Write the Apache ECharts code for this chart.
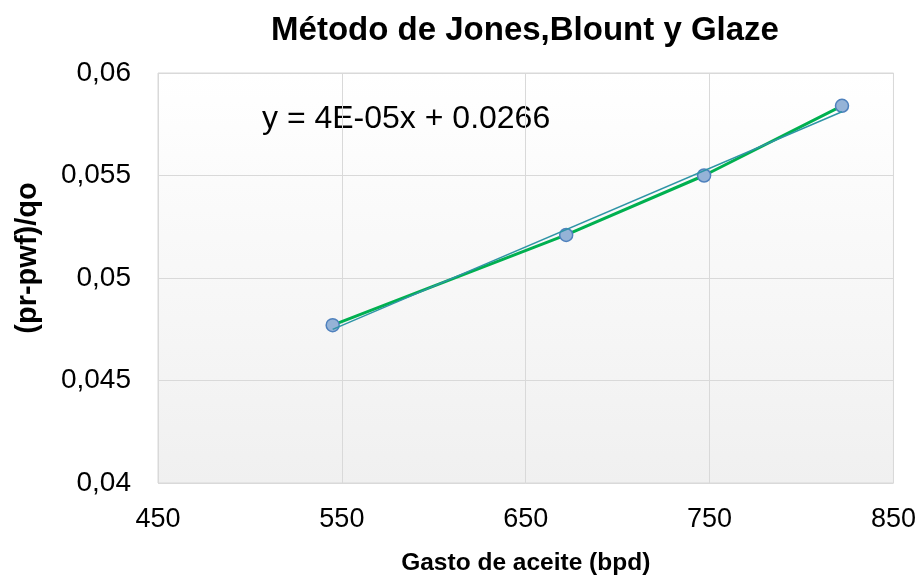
<!DOCTYPE html>
<html>
<head>
<meta charset="utf-8">
<script src="https://cdn.jsdelivr.net/npm/echarts@6/dist/echarts.min.js"></script>
<style>
  html, body { margin: 0; padding: 0; background: #ffffff; }
  #chart { width: 919px; height: 581px; }
</style>
</head>
<body>
<div id="chart"></div>
<script>
// Measured rate vs. (pr - pwf)/qo
const gastoAceite = [545, 672, 747, 822];
const presionSobreGasto = [0.0477, 0.0521, 0.0550, 0.0584];

const xTicks = [450, 550, 650, 750, 850];
const yTicks = [0.04, 0.045, 0.05, 0.055, 0.06];

// Least-squares linear trend of the measured points
function linearFit(xs, ys) {
  const n = xs.length;
  const mx = xs.reduce((a, b) => a + b, 0) / n;
  const my = ys.reduce((a, b) => a + b, 0) / n;
  let sxy = 0, sxx = 0;
  for (let i = 0; i < n; i++) {
    sxy += (xs[i] - mx) * (ys[i] - my);
    sxx += (xs[i] - mx) * (xs[i] - mx);
  }
  const m = sxy / sxx;
  return { m: m, b: my - m * mx };
}
const fit = linearFit(gastoAceite, presionSobreGasto);
const xMin = Math.min(...gastoAceite), xMax = Math.max(...gastoAceite);
const trendData = [[xMin, fit.m * xMin + fit.b], [xMax, fit.m * xMax + fit.b]];

function excelSci(v) {
  const e = Math.floor(Math.log10(Math.abs(v)));
  const mant = Math.round(v / Math.pow(10, e));
  const exp = Math.abs(e).toString().padStart(2, '0');
  return mant + 'E' + (e < 0 ? '-' : '+') + exp;
}
const equation = 'y = ' + excelSci(fit.m) + 'x + ' + fit.b.toFixed(4);

const font = '"Liberation Sans", Arial, sans-serif';
const chart = echarts.init(document.getElementById('chart'), null, { renderer: 'canvas' });

chart.setOption({
  animation: false,
  backgroundColor: '#ffffff',
  title: {
    text: 'Método de Jones,Blount y Glaze',
    left: 520, top: 9, textAlign: 'center',
    textStyle: { fontFamily: font, fontSize: 33, fontWeight: 'bold', color: '#000000' }
  },
  grid: {
    left: 158, right: 25, top: 73, bottom: 95,
    show: true,
    borderColor: '#D9D9D9', borderWidth: 1,
    backgroundColor: {
      type: 'linear', x: 0, y: 0, x2: 0, y2: 1,
      colorStops: [{ offset: 0, color: '#FFFFFF' }, { offset: 1, color: '#F0F0F0' }]
    }
  },
  xAxis: {
    type: 'value', min: xTicks[0], max: xTicks[xTicks.length - 1], interval: 100,
    name: 'Gasto de aceite (bpd)', nameLocation: 'middle', nameGap: 68,
    nameTextStyle: { fontFamily: font, fontSize: 24.5, fontWeight: 'bold', color: '#000000' },
    axisLine: { show: false }, axisTick: { show: false },
    axisLabel: { fontFamily: font, fontSize: 27, color: '#000000', margin: 23 },
    splitLine: { show: true, lineStyle: { color: '#D9D9D9', width: 1 } }
  },
  yAxis: {
    type: 'value', min: yTicks[0], max: yTicks[yTicks.length - 1], interval: 0.005,
    axisLine: { show: false }, axisTick: { show: false },
    axisLabel: {
      fontFamily: font, fontSize: 28, color: '#000000', margin: 27,
      formatter: v => String(+v.toFixed(3)).replace('.', ',')
    },
    splitLine: { show: true, lineStyle: { color: '#D9D9D9', width: 1 } }
  },
  graphic: [
    {
      type: 'text', left: 262, top: 103, silent: true,
      style: { text: equation, fontFamily: font, fontSize: 32, fill: '#000000' }
    },
    {
      // vertical axis title
      type: 'text', x: 28, y: 258, rotation: Math.PI / 2, silent: true,
      style: {
        text: '(pr-pwf)/qo', fontFamily: font, fontSize: 29, fontWeight: 'bold',
        fill: '#000000', align: 'center', verticalAlign: 'middle'
      }
    }
  ],
  series: [
    {
      name: 'Datos', type: 'line', z: 3,
      data: gastoAceite.map((x, i) => [x, presionSobreGasto[i]]),
      lineStyle: { color: '#00B050', width: 3 },
      symbol: 'circle', symbolSize: 13,
      itemStyle: { color: '#95B3D7', borderColor: '#4F81BD', borderWidth: 1.5 }
    },
    {
      name: 'Tendencia', type: 'line', z: 4,
      data: trendData, symbol: 'none',
      lineStyle: { color: '#2E94A6', width: 1.5 }
    }
  ]
});
</script>
</body>
</html>
